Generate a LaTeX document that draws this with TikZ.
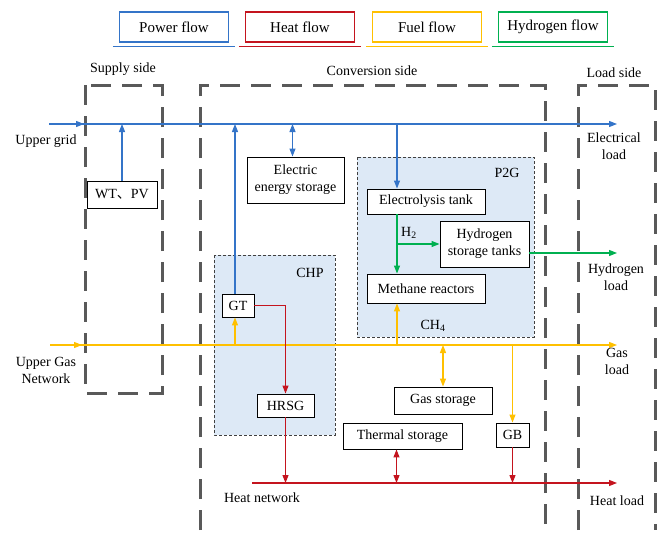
\documentclass[tikz,border=0pt]{standalone}
\usepackage{fontspec}
\setmainfont{Liberation Serif}
\newfontfamily\cjk{Noto Sans CJK SC}
\usetikzlibrary{arrows.meta}

\definecolor{pblue}{RGB}{52,116,200}
\definecolor{hred}{RGB}{196,20,30}
\definecolor{fyellow}{RGB}{255,192,0}
\definecolor{hgreen}{RGB}{0,176,80}
\definecolor{chpfill}{RGB}{221,233,246}
\definecolor{sidegray}{RGB}{89,89,89}

\begin{document}
\begin{tikzpicture}[
  x=1pt,
  y=-1pt,
  font=\fontsize{14}{17}\selectfont,
  >={Triangle[length=8pt,width=6pt]},
  box/.style={draw, line width=0.9pt, fill=white, inner sep=0pt, align=center},
  legend/.style={draw, line width=1.3pt, minimum width=109pt, minimum height=30pt,
    font=\fontsize{15}{18}\selectfont},
  side/.style={draw=sidegray, line width=3pt, dash pattern=on 20pt off 11pt},
  group/.style={draw=black!75, fill=chpfill, line width=0.8pt, dash pattern=on 3pt off 2pt},
  power/.style={draw=pblue, line width=1.2pt},
  heat/.style={draw=hred, line width=1.2pt},
  fuel/.style={draw=fyellow, line width=1.2pt},
  hydro/.style={draw=hgreen, line width=1.2pt}
]
  \useasboundingbox (0,0) rectangle (665,538);

  % Legend
  \node[legend, draw=pblue] (PF) at (174,27) {Power flow};
  \node[legend, draw=hred] (HF) at (300,27) {Heat flow};
  \node[legend, draw=fyellow] (FF) at (427,27) {Fuel flow};
  \node[legend, draw=hgreen] (YF) at (553,27) {Hydrogen flow};
  \foreach \n/\c in {PF/pblue, HF/hred, FF/fyellow, YF/hgreen}
    \draw[\c, line width=1.5pt]
      ([xshift=-6pt,yshift=-4pt]\n.south west) --
      ([xshift=6pt,yshift=-4pt]\n.south east);

  % Sides
  \node (supply) at (123,69) {Supply side};
  \node (conv) at (372,71) {Conversion side};
  \node (load) at (614,73) {Load side};

  \draw[side] (85,85) rectangle (162,393);
  \draw[side] (200,530) -- (200,85) -- (545,85) -- (545,530);
  \draw[side] (578,530) -- (578,85) -- (655,85) -- (655,530);

  % CHP and P2G
  \draw[group] (214,255) rectangle (335,435);
  \draw[group] (357,157) rectangle (534,337);
  \node (chp) at (310,273) {CHP};
  \node (p2g) at (507,173) {P2G};
  \node (ch4) at (433,326) {CH\textsubscript{4}};
  \node (h2) at (409,233) {H\textsubscript{2}};

  % Units
  \node[box, minimum width=70pt, minimum height=27pt] (WT) at (122,194.5) {WT{\cjk 、}PV};
  \node[box, minimum width=97pt, minimum height=46pt] (EES) at (295.5,180)
    {Electric\\energy storage};
  \node[box, minimum width=32pt, minimum height=23pt] (GT) at (238,305.5) {GT};
  \node[box, minimum width=57pt, minimum height=23pt] (HRSG) at (285.5,405.5) {HRSG};
  \node[box, minimum width=118pt, minimum height=25pt] (ET) at (426,201.5) {Electrolysis tank};
  \node[box, minimum width=89pt, minimum height=46pt] (HST) at (484.5,244)
    {Hydrogen\\storage tanks};
  \node[box, minimum width=118pt, minimum height=29pt] (MR) at (426,288.5) {Methane reactors};
  \node[box, minimum width=98pt, minimum height=27pt] (GS) at (443,400.5) {Gas storage};
  \node[box, minimum width=33pt, minimum height=24pt] (GB) at (512.5,435) {GB};
  \node[box, minimum width=119pt, minimum height=26pt] (TS) at (402.5,436) {Thermal storage};

  % Buses
  \coordinate (gridL) at (49,124);
  \coordinate (gridA) at (84,124);
  \coordinate (gridR) at (617,124);
  \coordinate (gasL) at (50,345);
  \coordinate (gasA) at (82,345);
  \coordinate (gasR) at (617,345);
  \coordinate (heatL) at (252,483);
  \coordinate (heatR) at (617,483);
  \coordinate (col) at (397,0);

  \draw[power,->] (gridL) -- (gridA);
  \draw[power,->] (gridL) -- (gridR);
  \draw[fuel,->] (gasL) -- (gasA);
  \draw[fuel,->] (gasL) -- (gasR);
  \draw[heat,->] (heatL) -- (heatR);

  % Power flow
  \draw[power,->] (WT.north) -- (WT.north |- gridL);
  \draw[power,<->] ([xshift=-3pt]EES.north) -- ([xshift=-3pt]EES.north |- gridL);
  \draw[power,->] ([xshift=-3pt]GT.north) -- ([xshift=-3pt]GT.north |- gridL);
  \draw[power,->] (col |- gridL) -- (ET.north -| col);

  % Hydrogen flow
  \draw[hydro,->] (ET.south -| col) -- (MR.north -| col);
  \draw[hydro,->] (HST.west -| col) -- (HST.west);
  \draw[hydro,->] ([yshift=-9pt]HST.east) -- ([yshift=-9pt]HST.east -| gridR);

  % Fuel flow
  \draw[fuel,->] ([xshift=-3pt]GT.south |- gasL) -- ([xshift=-3pt]GT.south);
  \draw[fuel,->] (col |- gasL) -- (MR.south -| col);
  \draw[fuel,<->] (GS.north |- gasL) -- (GS.north);
  \draw[fuel,->] (GB.north |- gasL) -- (GB.north);

  % Heat flow
  \draw[heat,->] (GT.east) -| (HRSG.north);
  \draw[heat,->] (HRSG.south) -- (HRSG.south |- heatL);
  \draw[heat,<->] ([xshift=-6pt]TS.south) -- ([xshift=-6pt]TS.south |- heatL);
  \draw[heat,->] (GB.south) -- (GB.south |- heatL);

  % Labels
  \node (ug) at (46,141) {Upper grid};
  \node[align=center] (ugn) at (46,370) {Upper Gas\\Network};
  \node[align=center] (el) at (614,146) {Electrical\\load};
  \node[align=center] (hl) at (616,277) {Hydrogen\\load};
  \node[align=center] (gl) at (617,361) {Gas\\load};
  \node (tl) at (617,501) {Heat load};
  \node (hn) at (262,498) {Heat network};
\end{tikzpicture}
\end{document}
